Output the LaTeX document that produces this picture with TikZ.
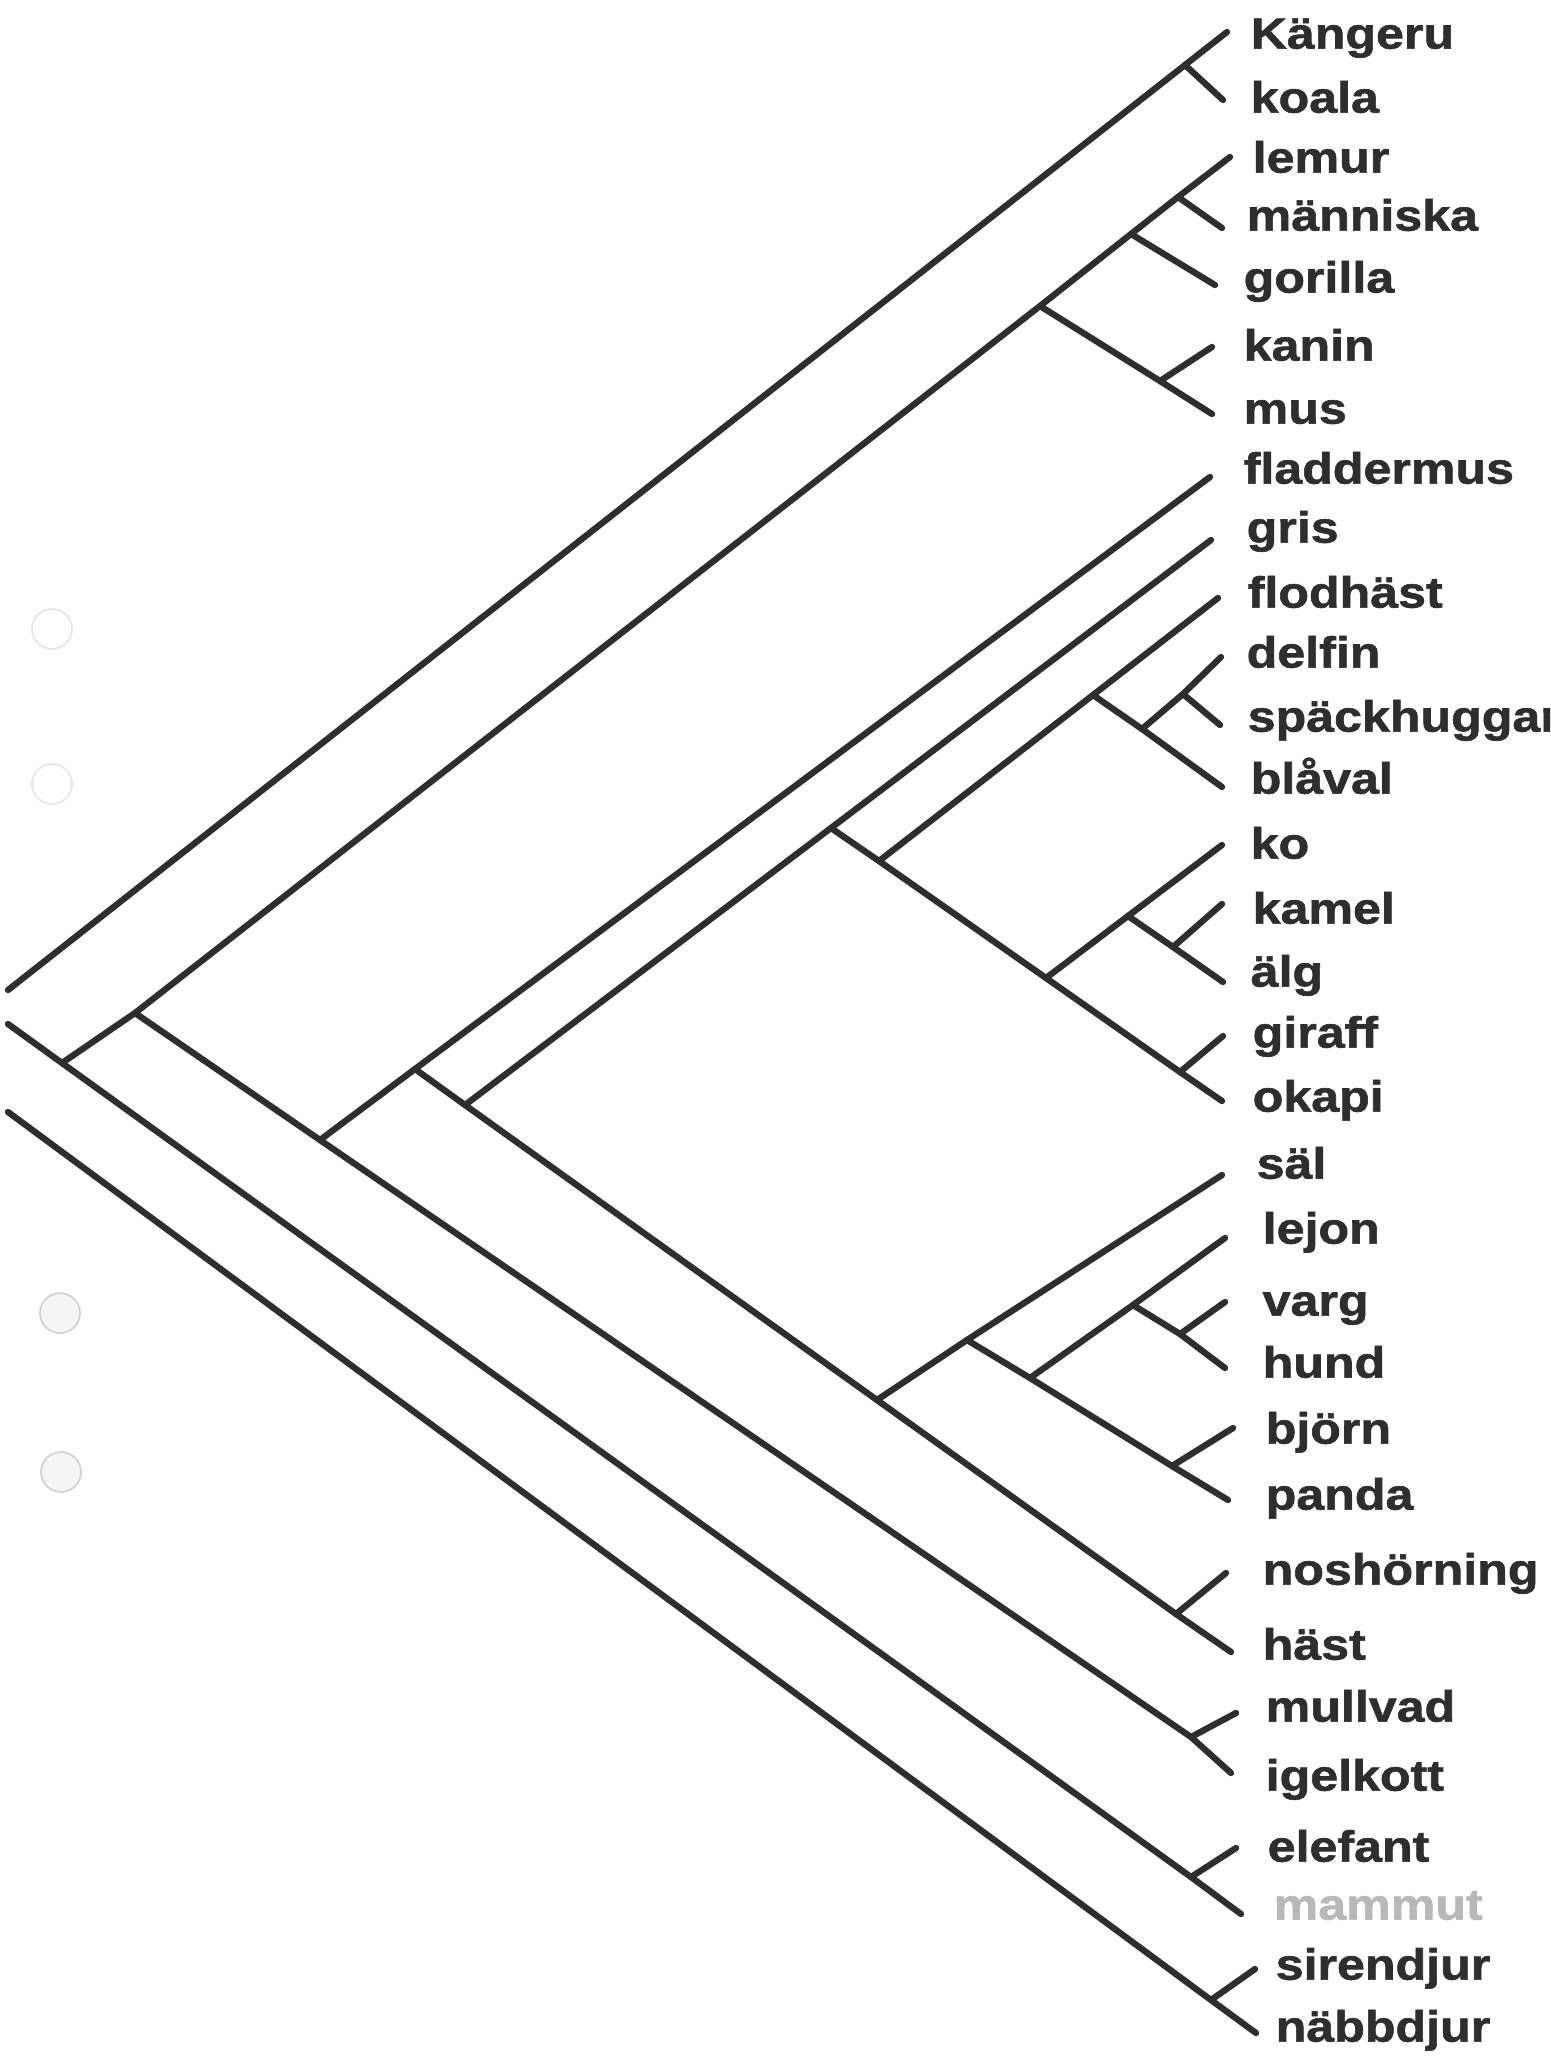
\documentclass[tikz,border=0pt]{standalone}
\usepackage{fontspec}
\newfontfamily\artfont{Liberation Sans Bold}[FakeStretch=1.15, FakeBold=1.4]
\definecolor{bläck}{HTML}{2E2E2E}
\definecolor{blek}{HTML}{B8B8B8}
\tikzset{
  gren/.style={line width=1.8pt, draw=bläck, line cap=round, line join=round},
  art/.style={anchor=mid west, inner sep=0pt, text=bläck, font=\artfont\fontsize{12.4pt}{14pt}\selectfont},
  hal/.style={line width=0.5pt}
}
\begin{document}
\begin{tikzpicture}[x=0.01cm, y=-0.01cm]
  \useasboundingbox (0,0) rectangle (1550,2057);
  \clip (0,0) rectangle (1550,2057);

  % hålslag i kanten
  \draw[hal, draw=gray!20] (52,629) circle (20);
  \draw[hal, draw=gray!20] (52,784) circle (20);
  \draw[hal, draw=gray!35, fill=gray!8] (60,1313) circle (20);
  \draw[hal, draw=gray!35, fill=gray!8] (61,1472) circle (20);

  % förgreningar
  \coordinate (a0) at (8,990);
  \coordinate (b0) at (8,1024);
  \coordinate (c0) at (8,1112);
  \coordinate (R1) at (62,1063);
  \coordinate (R2) at (135,1013);
  \coordinate (KK) at (1185,65);
  \coordinate (P1) at (1178,197);
  \coordinate (P2) at (1131,234);
  \coordinate (P3) at (1040,306);
  \coordinate (P4) at (1160,381);
  \coordinate (J3) at (320,1140);
  \coordinate (J4) at (415,1069);
  \coordinate (J5) at (465,1105);
  \coordinate (W0) at (831,828);
  \coordinate (W1) at (879,861);
  \coordinate (WH) at (1093,695);
  \coordinate (WH2) at (1142,729);
  \coordinate (WH3) at (1183,694);
  \coordinate (RU) at (1046,978);
  \coordinate (RU2) at (1128,916);
  \coordinate (RU3) at (1173,947);
  \coordinate (RU4) at (1180,1072);
  \coordinate (K0) at (877,1400);
  \coordinate (K1) at (967,1340);
  \coordinate (K2) at (1030,1378);
  \coordinate (K3) at (1133,1305);
  \coordinate (K4) at (1180,1334);
  \coordinate (K5) at (1172,1466);
  \coordinate (NH) at (1176,1614);
  \coordinate (MI) at (1191,1737);
  \coordinate (EM) at (1191,1877);
  \coordinate (SN) at (1211,2000);

  % grenspetsar
  \coordinate (eKangeru) at (1227,32);
  \coordinate (eKoala) at (1223,100);
  \coordinate (eLemur) at (1230,157);
  \coordinate (eManniska) at (1222,228);
  \coordinate (eGorilla) at (1215,285);
  \coordinate (eKanin) at (1212,347);
  \coordinate (eMus) at (1212,414);
  \coordinate (eFladdermus) at (1210,477);
  \coordinate (eGris) at (1211,540);
  \coordinate (eFlodhast) at (1218,598);
  \coordinate (eDelfin) at (1221,657);
  \coordinate (eSpack) at (1220,725);
  \coordinate (eBlaval) at (1222,787);
  \coordinate (eKo) at (1222,845);
  \coordinate (eKamel) at (1222,904);
  \coordinate (eAlg) at (1223,982);
  \coordinate (eGiraff) at (1223,1036);
  \coordinate (eOkapi) at (1222,1101);
  \coordinate (eSal) at (1222,1175);
  \coordinate (eLejon) at (1225,1238);
  \coordinate (eVarg) at (1225,1302);
  \coordinate (eHund) at (1225,1368);
  \coordinate (eBjorn) at (1233,1428);
  \coordinate (ePanda) at (1228,1500);
  \coordinate (eNoshorning) at (1226,1573);
  \coordinate (eHast) at (1231,1652);
  \coordinate (eMullvad) at (1236,1713);
  \coordinate (eIgelkott) at (1231,1773);
  \coordinate (eElefant) at (1236,1848);
  \coordinate (eMammut) at (1241,1914);
  \coordinate (eSirendjur) at (1255,1969);
  \coordinate (eNabbdjur) at (1256,2033);

  % pungdjur
  \draw[gren] (a0) -- (KK) -- (eKangeru);
  \draw[gren] (KK) -- (eKoala);
  % primater och gnagare
  \draw[gren] (b0) -- (R1) -- (R2) -- (P3) -- (P2) -- (P1) -- (eLemur);
  \draw[gren] (P1) -- (eManniska);
  \draw[gren] (P2) -- (eGorilla);
  \draw[gren] (P3) -- (P4) -- (eMus);
  \draw[gren] (P4) -- (eKanin);
  % insektsätare, fladdermöss
  \draw[gren] (R2) -- (J3) -- (MI) -- (eIgelkott);
  \draw[gren] (MI) -- (eMullvad);
  \draw[gren] (J3) -- (J4) -- (eFladdermus);
  \draw[gren] (J4) -- (J5) -- (K0) -- (NH) -- (eHast);
  \draw[gren] (NH) -- (eNoshorning);
  % partåiga hovdjur och valar
  \draw[gren] (J5) -- (W0) -- (eGris);
  \draw[gren] (W0) -- (W1) -- (RU) -- (RU4) -- (eOkapi);
  \draw[gren] (RU4) -- (eGiraff);
  \draw[gren] (RU) -- (RU2) -- (eKo);
  \draw[gren] (RU2) -- (RU3) -- (eAlg);
  \draw[gren] (RU3) -- (eKamel);
  \draw[gren] (W1) -- (WH) -- (eFlodhast);
  \draw[gren] (WH) -- (WH2) -- (eBlaval);
  \draw[gren] (WH2) -- (WH3) -- (eDelfin);
  \draw[gren] (WH3) -- (eSpack);
  % rovdjur
  \draw[gren] (K0) -- (K1) -- (eSal);
  \draw[gren] (K1) -- (K2) -- (K5) -- (ePanda);
  \draw[gren] (K5) -- (eBjorn);
  \draw[gren] (K2) -- (K3) -- (eLejon);
  \draw[gren] (K3) -- (K4) -- (eHund);
  \draw[gren] (K4) -- (eVarg);
  % elefanter m.fl.
  \draw[gren] (R1) -- (EM) -- (eMammut);
  \draw[gren] (EM) -- (eElefant);
  \draw[gren] (c0) -- (SN) -- (eNabbdjur);
  \draw[gren] (SN) -- (eSirendjur);

  % artnamn
  \node[art] (nKangeru) at (1250,41) {Kängeru};
  \node[art] (nKoala) at (1250,105) {koala};
  \node[art] (nLemur) at (1252,165) {lemur};
  \node[art] (nManniska) at (1246,223) {människa};
  \node[art] (nGorilla) at (1243,285) {gorilla};
  \node[art] (nKanin) at (1243,353) {kanin};
  \node[art] (nMus) at (1243,416) {mus};
  \node[art] (nFladdermus) at (1243,476) {fladdermus};
  \node[art] (nGris) at (1246,535) {gris};
  \node[art] (nFlodhast) at (1247,600) {flodhäst};
  \node[art] (nDelfin) at (1246,660) {delfin};
  \node[art] (nSpack) at (1247,724) {späckhuggare};
  \node[art] (nBlaval) at (1250,786) {blåval};
  \node[art] (nKo) at (1250,851) {ko};
  \node[art] (nKamel) at (1252,916) {kamel};
  \node[art] (nAlg) at (1250,979) {älg};
  \node[art] (nGiraff) at (1252,1040) {giraff};
  \node[art] (nOkapi) at (1252,1104) {okapi};
  \node[art] (nSal) at (1256,1171) {säl};
  \node[art] (nLejon) at (1262,1236) {lejon};
  \node[art] (nVarg) at (1262,1308) {varg};
  \node[art] (nHund) at (1262,1370) {hund};
  \node[art] (nBjorn) at (1265,1436) {björn};
  \node[art] (nPanda) at (1265,1502) {panda};
  \node[art] (nNoshorning) at (1262,1577) {noshörning};
  \node[art] (nHast) at (1262,1652) {häst};
  \node[art] (nMullvad) at (1265,1714) {mullvad};
  \node[art] (nIgelkott) at (1265,1783) {igelkott};
  \node[art] (nElefant) at (1267,1854) {elefant};
  \node[art, text=blek] (nMammut) at (1273,1912) {mammut};
  \node[art] (nSirendjur) at (1275,1972) {sirendjur};
  \node[art] (nNabbdjur) at (1275,2034) {näbbdjur};
\end{tikzpicture}
\end{document}
